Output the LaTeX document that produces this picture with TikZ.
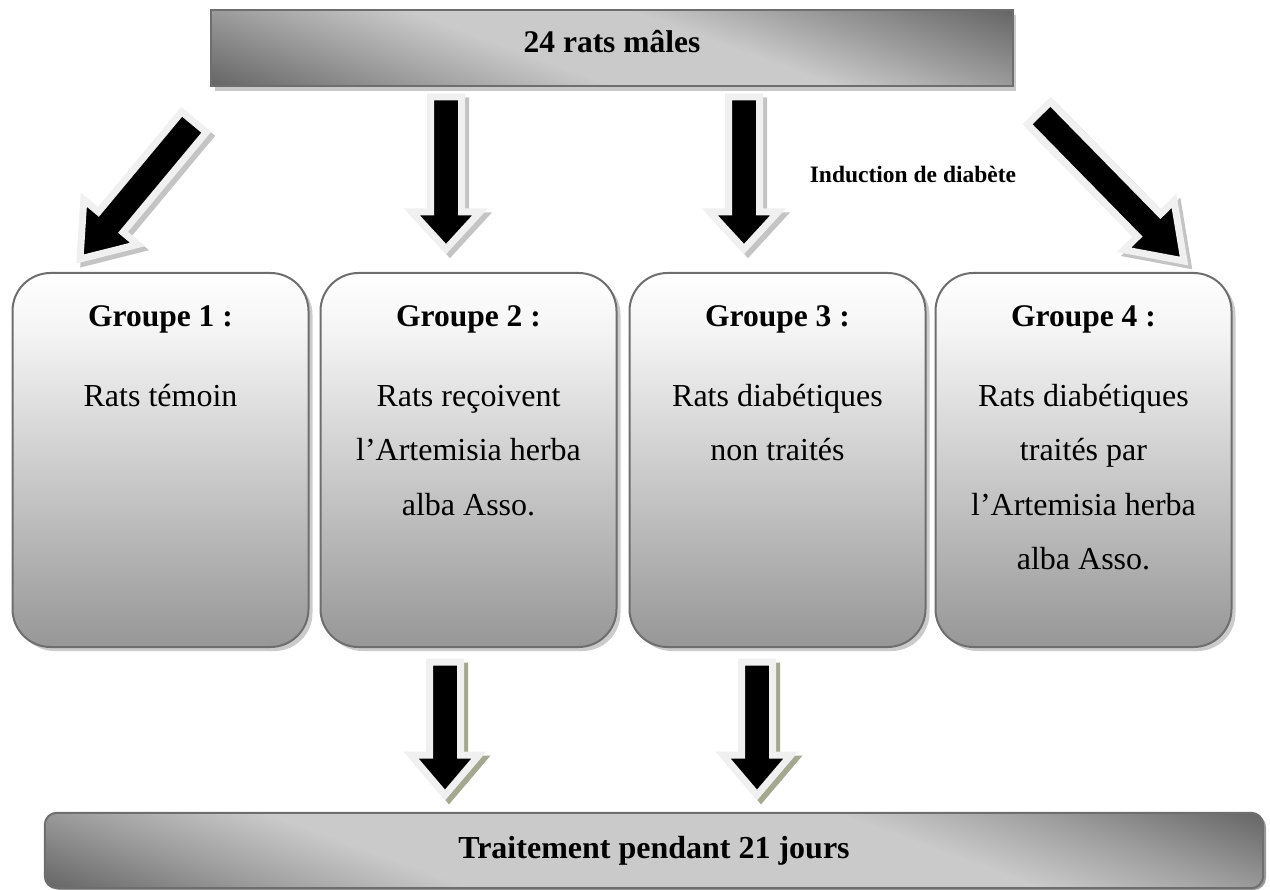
\documentclass[tikz,border=0pt]{standalone}
\usepackage{fontspec}
\setmainfont{Liberation Serif}
\usetikzlibrary{calc,shadows}
\definecolor{bardark}{HTML}{656565}
\definecolor{barmid}{HTML}{9E9E9E}
\definecolor{barlight}{HTML}{CACACA}
\definecolor{boxbottom}{HTML}{979797}
\definecolor{boxupper}{HTML}{F4F4F4}
\definecolor{edgegray}{HTML}{6E6E6E}
\definecolor{rimgray}{HTML}{F0F0F0}
\definecolor{shadowgray}{HTML}{C4C4C4}
\definecolor{shadowolive}{HTML}{A3A88F}
\definecolor{boxshadow}{HTML}{CBCBCB}
\definecolor{barshadow}{HTML}{C8C8C8}
\definecolor{lowshadow}{HTML}{9A9A9A}
\pgfdeclareverticalshading{topgrad}{100bp}{color(0bp)=(bardark); color(25bp)=(bardark); color(36bp)=(barmid); color(45bp)=(barlight); color(56bp)=(barlight); color(64bp)=(barmid); color(75bp)=(bardark); color(100bp)=(bardark)}
\pgfdeclareverticalshading{lowgrad}{100bp}{color(0bp)=(bardark); color(25bp)=(bardark); color(33bp)=(barmid); color(40bp)=(barlight); color(60bp)=(barlight); color(67bp)=(barmid); color(75bp)=(bardark); color(100bp)=(bardark)}
\pgfdeclareverticalshading{boxshade}{100bp}{color(0bp)=(boxbottom); color(25bp)=(boxbottom); color(67bp)=(boxupper); color(75bp)=(white); color(100bp)=(white)}
\tikzset{
  topbar/.style={fill=barlight, minimum width=801pt, minimum height=76pt, inner sep=0pt,
    drop shadow={fill=barshadow, opacity=1, shadow xshift=3pt, shadow yshift=-5pt}},
  lowbar/.style={fill=barlight, rounded corners=12pt, minimum width=1218pt, minimum height=75pt, inner sep=0pt,
    drop shadow={fill=lowshadow, opacity=1, shadow xshift=3pt, shadow yshift=-2pt}},
  edgeline/.style={draw=edgegray, line width=2pt},
  grpbox/.style={draw=edgegray, line width=2pt, rounded corners=38pt, minimum width=296pt, minimum height=374pt, inner sep=0pt,
    shade, shading=boxshade,
    drop shadow={fill=boxshadow, opacity=1, shadow xshift=4pt, shadow yshift=-4pt}},
  titletext/.style={anchor=base, inner sep=0pt, font=\bfseries\fontsize{31.5}{37}\selectfont},
  bodytext/.style={anchor=base, inner sep=0pt, font=\fontsize{32}{37}\selectfont},
  bartext/.style={anchor=base, inner sep=0pt, font=\bfseries\fontsize{31.5}{37}\selectfont},
  smalltext/.style={anchor=base, inner sep=0pt, font=\bfseries\fontsize{23.5}{28}\selectfont},
  arrowbody/.style={draw=rimgray, fill=black, line width=7pt, line join=miter},
  arrowshadow/.style={draw=#1, fill=#1, line width=7pt, line join=miter}
}
% #1 tail, #2 tip, #3 shaft half width, #4 head half width, #5 head length, #6 shadow colour
\newcommand\myblockarrow[6]{%
  \coordinate (#1-base) at ($(#2)!#5!(#1)$);
  \begin{scope}[transform canvas={xshift=4pt,yshift=-4pt}]
    \draw[arrowshadow=#6] ($(#1)!#3!90:(#2)$) -- ($(#1-base)!#3!-90:(#1)$) -- ($(#1-base)!#4!-90:(#1)$) -- (#2) -- ($(#1-base)!#4!90:(#1)$) -- ($(#1-base)!#3!90:(#1)$) -- ($(#1)!#3!-90:(#2)$) -- cycle;
  \end{scope}
  \draw[arrowbody] ($(#1)!#3!90:(#2)$) -- ($(#1-base)!#3!-90:(#1)$) -- ($(#1-base)!#4!-90:(#1)$) -- (#2) -- ($(#1-base)!#4!90:(#1)$) -- ($(#1-base)!#3!90:(#1)$) -- ($(#1)!#3!-90:(#2)$) -- cycle;
}
\begin{document}
\begin{tikzpicture}[x=1pt,y=-1pt]
\useasboundingbox (0,0) rectangle (1270,890);

% top bar
\node[topbar] (top) at (612,48) {};
\begin{scope}
  \clip (top.south west) rectangle (top.north east);
  \begin{scope}[transform canvas={shift={(top.center)}, rotate=-20}]
    \shade[shading=topgrad] (-500pt,-172.7pt) rectangle (500pt,172.7pt);
  \end{scope}
\end{scope}
\draw[edgeline] (top.south west) rectangle (top.north east);
\node[bartext] (toptext) at (612,53) {24 rats mâles};

% group boxes
\node[grpbox] (g1) at (160.5,460) {};
\node[grpbox] (g2) at (468.5,460) {};
\node[grpbox] (g3) at (777.5,460) {};
\node[grpbox] (g4) at (1083.5,460) {};

\node[titletext] (g1t) at (160.5,327) {Groupe 1 :};
\node[titletext] (g2t) at (468.5,327) {Groupe 2 :};
\node[titletext] (g3t) at (777.5,327) {Groupe 3 :};
\node[titletext] (g4t) at (1083.5,327) {Groupe 4 :};

\node[bodytext] (g1a) at (160.5,407) {Rats témoin};

\node[bodytext] (g2a) at (468.5,407) {Rats reçoivent};
\node[bodytext] (g2b) at (468.5,461) {l’Artemisia herba};
\node[bodytext] (g2c) at (468.5,515) {alba Asso.};

\node[bodytext] (g3a) at (777.5,407) {Rats diabétiques};
\node[bodytext] (g3b) at (777.5,461) {non traités};

\node[bodytext] (g4a) at (1083.5,407) {Rats diabétiques};
\node[bodytext] (g4b) at (1083.5,461) {traités par};
\node[bodytext] (g4c) at (1083.5,515) {l’Artemisia herba};
\node[bodytext] (g4d) at (1083.5,569) {alba Asso.};

% label
\node[smalltext] (induc) at (913,183) {Induction de diabète};

% bottom bar
\node[lowbar] (low) at (654,850.5) {};
\begin{scope}
  \clip[rounded corners=12pt] (low.south west) rectangle (low.north east);
  \begin{scope}[transform canvas={shift={(low.center)}, rotate=-20}]
    \shade[shading=lowgrad] (-660pt,-243.6pt) rectangle (660pt,243.6pt);
  \end{scope}
\end{scope}
\draw[edgeline, rounded corners=12pt] (low.south west) rectangle (low.north east);
\node[bartext, font=\bfseries\fontsize{32}{37}\selectfont] (lowtext) at (654,858) {Traitement pendant 21 jours};

% arrow end points
\coordinate (a1) at (194,122);
\coordinate (a1tip) at (80,259);
\coordinate (a2) at (446,97);
\coordinate (a2tip) at (446,249);
\coordinate (a3) at (744,97);
\coordinate (a3tip) at (744,249);
\coordinate (a4) at (1039,113);
\coordinate (a4tip) at (1184,261);
\coordinate (b1) at (445,662);
\coordinate (b1tip) at (445,795);
\coordinate (b2) at (757,662);
\coordinate (b2tip) at (757,795);

\myblockarrow{a1}{a1tip}{16pt}{35pt}{48pt}{shadowgray}
\myblockarrow{a2}{a2tip}{15.5pt}{34pt}{37pt}{shadowgray}
\myblockarrow{a3}{a3tip}{15.5pt}{34pt}{37pt}{shadowgray}
\myblockarrow{a4}{a4tip}{16pt}{35pt}{50pt}{shadowgray}
\myblockarrow{b1}{b1tip}{15.5pt}{34pt}{40pt}{shadowolive}
\myblockarrow{b2}{b2tip}{15.5pt}{34pt}{40pt}{shadowolive}
\end{tikzpicture}
\end{document}
